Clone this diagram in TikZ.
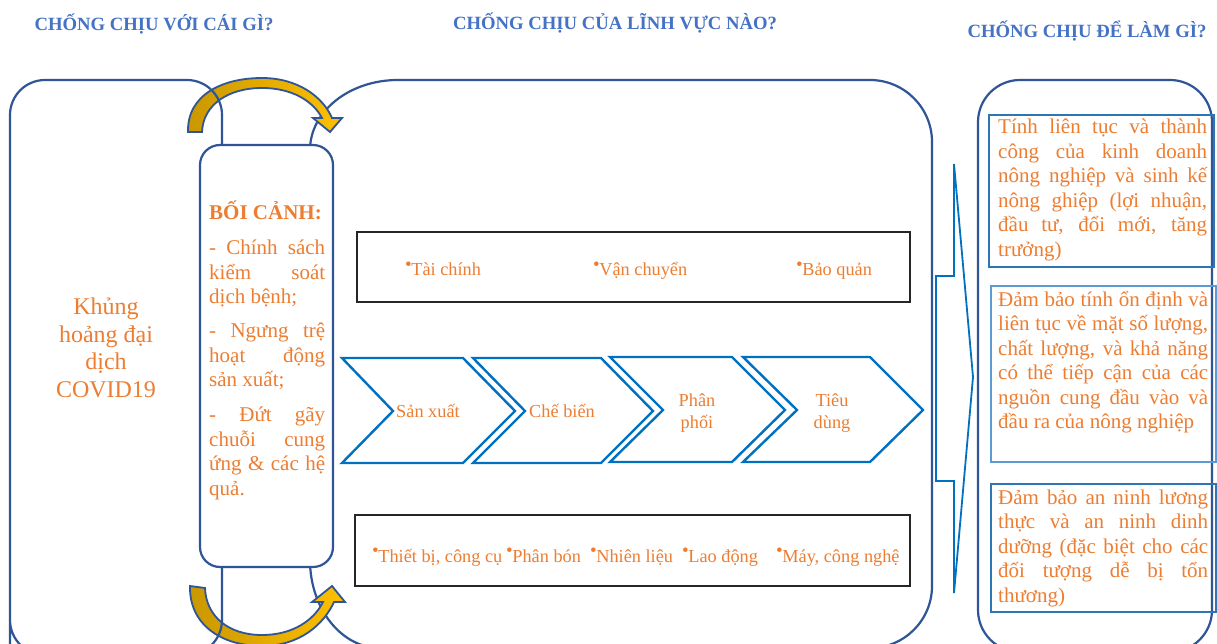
\documentclass[tikz,border=0pt]{standalone}
\usepackage{fontspec}
\setmainfont{Liberation Serif}
\definecolor{hdrblue}{HTML}{4472C4}
\definecolor{boxblue}{HTML}{2F5597}
\definecolor{chevblue}{HTML}{0070C0}
\definecolor{txtorange}{HTML}{ED7D31}
\definecolor{inblueA}{HTML}{2E75B6}
\definecolor{inblueB}{HTML}{5B9BD5}
\definecolor{arrgold}{HTML}{C99700}
\definecolor{arryellow}{HTML}{FFC000}
\newcommand{\mybul}{\raisebox{5.5pt}{\fontsize{19}{19}\selectfont •}\kern-0.5pt}
\tikzset{
  hdr/.style={font=\fontsize{18.7}{21}\selectfont\bfseries, text=hdrblue, inner sep=0pt, anchor=base},
  bigbox/.style={draw=boxblue, line width=2.2pt},
  chevbox/.style={draw=chevblue, line width=2.4pt, line join=miter},
  blackbox/.style={draw=black!85, line width=1.2pt},
  inbox/.style={line width=1.3pt},
  lbl/.style={font=\fontsize{18.3}{22}\selectfont, text=txtorange, inner sep=0pt},
  curvarrow/.style={draw=boxblue, line width=1.8pt, left color=arrgold, right color=arryellow, line join=miter},
  bigarrow/.style={draw=chevblue, line width=1.8pt, line join=miter},
  para/.style={font=\fontsize{21}{24.5}\selectfont, text=txtorange, inner sep=0pt, anchor=base west},
}
\begin{document}
\begin{tikzpicture}[x=1pt,y=-1pt]
\useasboundingbox (0,0) rectangle (1217,644);
\clip (0,0) rectangle (1217,644);
\fill[white] (0,0) rectangle (1217,644);

% headers
\node[hdr] (h1) at (154,31) {CHỐNG CHỊU VỚI CÁI GÌ?};
\node[hdr] (h2) at (615,30) {CHỐNG CHỊU CỦA LĨNH VỰC NÀO?};
\node[hdr] (h3) at (1087,38) {CHỐNG CHỊU ĐỂ LÀM GÌ?};

% center big box
\draw[bigbox] (310,150) arc[start angle=180,end angle=270,x radius=88,y radius=70]
  -- (870,80) arc[start angle=270,end angle=360,radius=62]
  -- (932,586) arc[start angle=0,end angle=90,radius=62]
  -- (380,648) arc[start angle=90,end angle=180,x radius=70,y radius=88]
  -- cycle;

% right big box
\draw[bigbox] (978,122) arc[start angle=180,end angle=270,radius=42]
  -- (1170,80) arc[start angle=270,end angle=360,radius=42]
  -- (1212,610) arc[start angle=0,end angle=90,radius=42]
  -- (1020,652) arc[start angle=90,end angle=180,radius=42]
  -- cycle;

% curved arrows
\draw[curvarrow] (188,132) .. controls (187,95) and (222,78) .. (262,78)
  .. controls (298,78) and (323,97) .. (332,118) -- (342,118) -- (330,132) -- (313,118) -- (322,118)
  .. controls (313,101) and (292,88) .. (262,88)
  .. controls (228,88) and (203,105) .. (202,132) -- cycle;
\draw[curvarrow] (190,586) .. controls (189,625) and (222,646) .. (262,646)
  .. controls (300,646) and (324,624) .. (334,602) -- (345,602) -- (332,586) -- (312,602) -- (323,602)
  .. controls (314,620) and (293,635) .. (262,635)
  .. controls (228,635) and (206,616) .. (205,588) -- cycle;

% left big box
\draw[bigbox] (10,700) -- (10,115) arc[start angle=180,end angle=270,radius=35]
  -- (187,80) arc[start angle=270,end angle=360,radius=35]
  -- (222,620) arc[start angle=0,end angle=90,radius=35]
  -- (45,655) arc[start angle=90,end angle=180,radius=35] -- cycle;

% context box
\draw[bigbox, fill=white, rounded corners=20pt] (200,145) rectangle (333,567);

\node[font=\fontsize{24}{27.5}\selectfont, text=txtorange, align=center] (covid) at (106,348) {Khủng\\hoảng đại\\dịch\\COVID19};

\node[para] (ctx) at (209,220) {\parbox[t]{116pt}{\hyphenpenalty=10000 \tolerance=10000 \parskip=10pt \parindent=0pt
\textbf{BỐI CẢNH:}\par
- Chính sách\linebreak kiểm soát\linebreak dịch bệnh;\par
- Ngưng trệ\linebreak hoạt động\linebreak sản xuất;\par
- Đứt gãy\linebreak chuỗi cung\linebreak ứng \& các hệ\linebreak quả.}};

% black boxes
\draw[blackbox] (357,232) rectangle (910,302);
\draw[blackbox] (355,515) rectangle (910,586);
\node[lbl, anchor=base west] (t1) at (405,276) {\mybul Tài chính};
\node[lbl, anchor=base west] (t2) at (593,276) {\mybul Vận chuyển};
\node[lbl, anchor=base west] (t3) at (796,276) {\mybul Bảo quản};
\node[lbl, anchor=base west] (b1) at (372,562) {\mybul Thiết bị, công cụ};
\node[lbl, anchor=base west] (b2) at (506,562) {\mybul Phân bón};
\node[lbl, anchor=base west] (b3) at (590,562) {\mybul Nhiên liệu};
\node[lbl, anchor=base west] (b4) at (682,562) {\mybul Lao động};
\node[lbl, anchor=base west] (b5) at (776,562) {\mybul Máy, công nghệ};

% chevrons
\draw[chevbox] (342,358) -- (463,358) -- (515,411) -- (463,463) -- (342,463) -- (393,411) -- cycle;
\draw[chevbox] (473,358) -- (601,358) -- (653,411) -- (601,463) -- (473,463) -- (525,411) -- cycle;
\draw[chevbox] (610,357) -- (732,357) -- (785,410) -- (732,462) -- (610,462) -- (663,410) -- cycle;
\draw[chevbox] (743,357) -- (870,357) -- (923,410) -- (870,462) -- (743,462) -- (797,410) -- cycle;
\node[lbl, anchor=base west] (c1) at (396,417) {Sản xuất};
\node[lbl, anchor=base west] (c2) at (529,417) {Chế biến};
\node[lbl, align=center] (c3) at (697,413) {Phân\\phối};
\node[lbl, align=center] (c4) at (832,413) {Tiêu\\dùng};

% big right arrow
\draw[bigarrow] (954,164) -- (973,377) -- (954,593) -- (954,481) -- (936,481) -- (936,276) -- (954,276) -- cycle;

% right inner boxes
\draw[inbox, draw=inblueA] (989,115) rectangle (1214,267);
\draw[inbox, draw=inblueB] (991,286) rectangle (1216,462);
\draw[inbox, draw=inblueA] (991,484) rectangle (1216,612);

\node[para] (ra) at (998,134) {\parbox[t]{209pt}{\hyphenpenalty=10000 \tolerance=10000 \parindent=0pt
Tính liên tục và thành\linebreak công của kinh doanh\linebreak nông nghiệp và sinh kế\linebreak nông ghiệp (lợi nhuận,\linebreak đầu tư, đổi mới, tăng\linebreak trưởng)}};
\node[para] (rb) at (998,306) {\parbox[t]{210pt}{\hyphenpenalty=10000 \tolerance=10000 \parindent=0pt
Đảm bảo tính ổn định và\linebreak liên tục về mặt số lượng,\linebreak chất lượng, và khả năng\linebreak có thể tiếp cận của các\linebreak nguồn cung đầu vào và\linebreak đầu ra của nông nghiệp}};
\node[para] (rc) at (998,504) {\parbox[t]{210pt}{\hyphenpenalty=10000 \tolerance=10000 \parindent=0pt
Đảm bảo an ninh lương\linebreak thực và an ninh dinh\linebreak dưỡng (đặc biệt cho các\linebreak đối tượng dễ bị tổn\linebreak thương)}};
\end{tikzpicture}
\end{document}
